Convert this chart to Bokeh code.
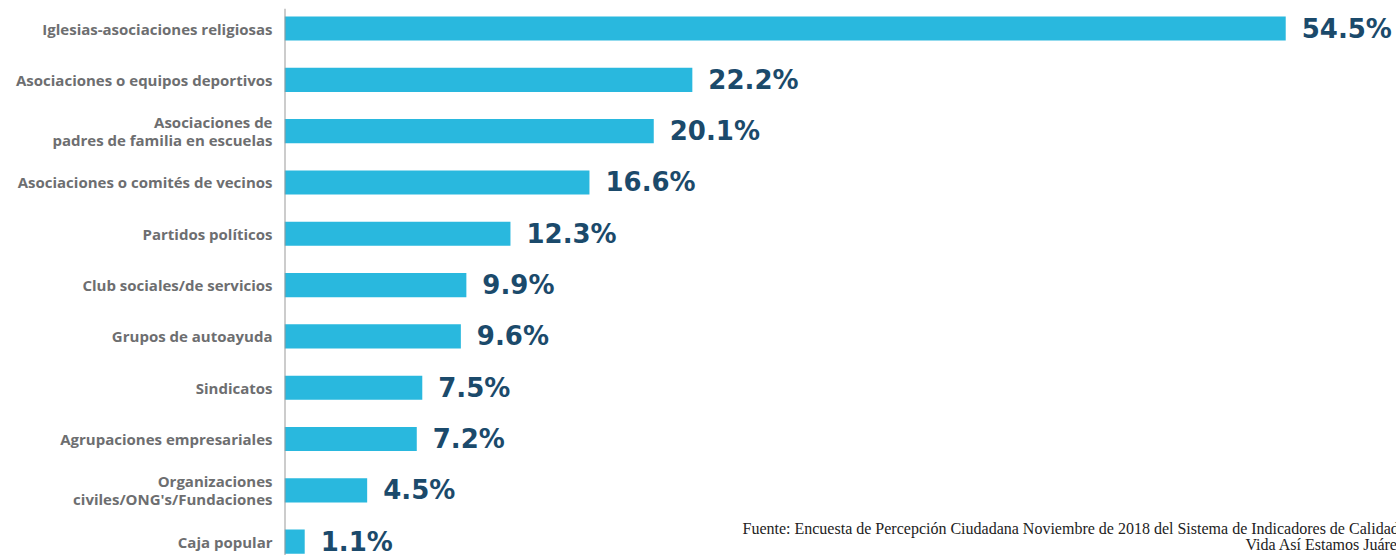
from bokeh.plotting import figure
from bokeh.models import Range1d, Span, Label, ColumnDataSource
from bokeh.core.properties import value
from bokeh.embed import file_html
from bokeh.resources import INLINE

categories = [
    "Iglesias-asociaciones religiosas",
    "Asociaciones o equipos deportivos",
    "Asociaciones de\npadres de familia en escuelas",
    "Asociaciones o comités de vecinos",
    "Partidos políticos",
    "Club sociales/de servicios",
    "Grupos de autoayuda",
    "Sindicatos",
    "Agrupaciones empresariales",
    "Organizaciones\nciviles/ONG's/Fundaciones",
    "Caja popular",
]
values = [54.5, 22.2, 20.1, 16.6, 12.3, 9.9, 9.6, 7.5, 7.2, 4.5, 1.1]
value_labels = [f"{v:.1f}%" for v in values]
source_line1 = "Fuente: Encuesta de Percepción Ciudadana Noviembre de 2018 del Sistema de Indicadores de Calidad de"
source_line2 = "Vida Así Estamos Juárez"

idx = list(range(len(categories)))
src = ColumnDataSource(dict(y=idx, v=values, cat=categories, lab=value_labels,
                            zero=[0] * len(idx)))

p = figure(width=1396, height=555, output_backend="svg", toolbar_location=None,
           x_range=Range1d(0, 60.53), y_range=Range1d(10.27, -0.39),
           min_border_left=284, min_border_right=0, min_border_top=8,
           min_border_bottom=0)
p.axis.visible = False
p.grid.visible = False
p.outline_line_color = None
p.background_fill_color = "white"
p.border_fill_color = "white"

p.hbar(y="y", left=0, right="v", height=0.47, source=src,
       fill_color="#29b8de", line_color=None)

p.add_layout(Span(location=0, dimension="height", line_color="#9a9a9a", line_width=2))

p.text(x="v", y="y", text="lab", source=src, x_offset=16,
       text_font=value("DejaVu Sans"), text_font_style="bold",
       text_font_size="26px", text_color="#1b4a6b",
       text_align="left", text_baseline="middle")

cat_glyph = p.text(x="zero", y="y", text="cat", source=src, x_offset=-12,
                   text_font=value("Open Sans"), text_font_style="bold",
                   text_font_size="15px", text_color="#6d6e70",
                   text_align="right", text_baseline="middle",
                   text_line_height=0.9)
cat_glyph.level = "overlay"

p.add_layout(Label(x=458, y=27, x_units="screen", y_units="screen",
                   text=source_line1, text_font="Liberation Serif",
                   text_font_size="16px", text_color="#222222",
                   text_align="left", text_baseline="alphabetic"))
p.add_layout(Label(x=961, y=11, x_units="screen", y_units="screen",
                   text=source_line2, text_font="Liberation Serif",
                   text_font_size="16px", text_color="#222222",
                   text_align="left", text_baseline="alphabetic"))

open("out.html", "w").write(file_html(p, INLINE))
